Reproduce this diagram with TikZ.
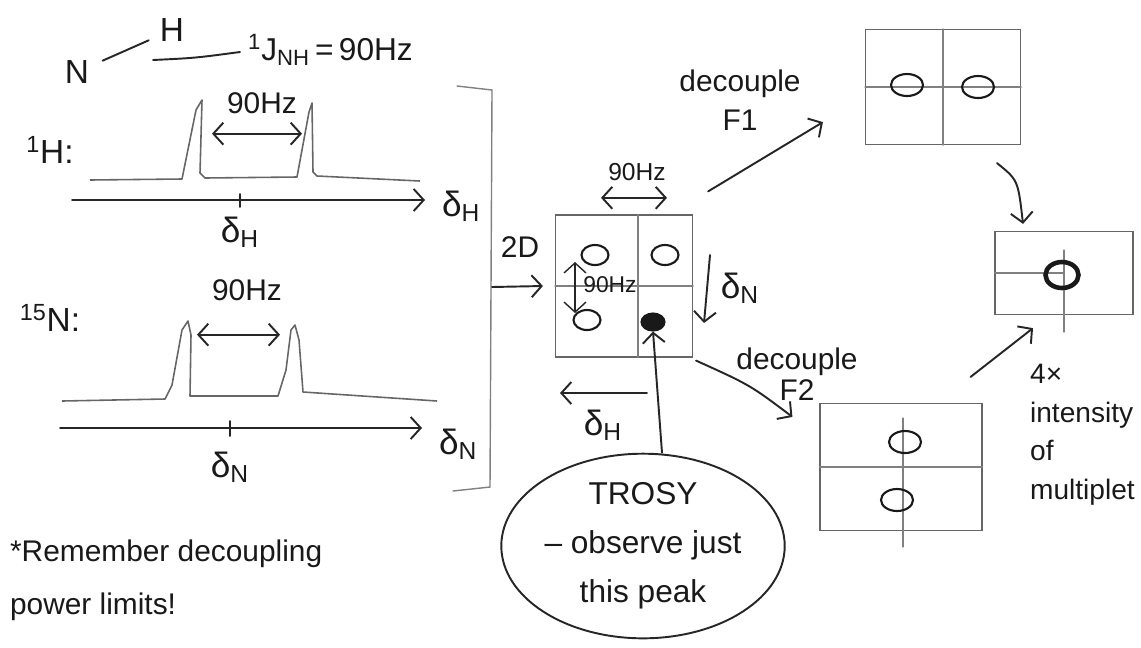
\documentclass[tikz,border=0pt]{standalone}
\usepackage{fontspec}
\setmainfont{Liberation Sans}
\usetikzlibrary{positioning,arrows.meta,shapes.geometric}

\tikzset{
  ink/.style={draw=black!85, line width=1.1pt, line cap=round, line join=round},
  pencil/.style={draw=black!50, line width=0.6pt, line cap=round},
  trace/.style={draw=black!60, line width=0.9pt, line join=round},
  hand/.style={font=\fontsize{17}{20}\selectfont, text=black!90, inner sep=1pt, align=center},
  delta/.style={hand, font=\fontsize{20}{22}\selectfont},
  small/.style={font=\fontsize{13}{15}\selectfont, text=black!90, inner sep=1pt},
  peak/.style={ellipse, draw=black!90, line width=1.2pt, minimum width=0.64cm, minimum height=0.44cm, inner sep=0pt},
  spot/.style={peak, fill=black!90, minimum width=0.46cm, minimum height=0.34cm},
  sbox/.style={draw=black!60, line width=0.7pt, inner sep=0pt},
  >={Straight Barb[length=2mm,width=4.4mm]}
}

\begin{document}
\begin{tikzpicture}[x=0.02cm, y=-0.02cm]
\useasboundingbox (0,0) rectangle (1141,647);

% N-H pair and its coupling
\node[hand, font=\fontsize{19}{20}\selectfont] (n) at (77,72) {N};
\node[hand, font=\fontsize{19}{20}\selectfont] (h) at (172,30) {H};
\draw[ink, shorten <=0.25cm, shorten >=0.2cm] (n) -- (h);
\draw[ink] (153,60) .. controls (195,58) .. (240,52);
\node[hand, anchor=west, font=\fontsize{18}{20}\selectfont] (jnh) at (246,50) {\textsuperscript{1}J\textsubscript{NH}\,=\,90Hz};

% 1H spectrum
\node[hand, font=\fontsize{19}{20}\selectfont] (hlab) at (50,150) {\textsuperscript{1}H:};
\draw[trace] (90,180) -- (182,179) -- (196,110) -- (202,100) -- (200,173) -- (205,178)
  -- (297,177) -- (309,112) -- (312,103) -- (313,172) -- (317,176) -- (420,181);
\node[hand] (hzh) at (262,103) {90Hz};
\draw[ink, <->] ([shift={(-1cm,-0.36cm)}]hzh.south) -- ([shift={(0.8cm,-0.36cm)}]hzh.south);
\coordinate (ha0) at (72,200);
\coordinate (ha1) at (425,200);
\draw[ink, ->] (ha0) -- (ha1);
\draw[ink] (240,194) -- (240,207);
\node[delta] (dh0) at (240,232) {δ\textsubscript{H}};
\node[delta, right=0.3cm of ha1, yshift=-0.12cm] (dh1) {δ\textsubscript{H}};

% 15N spectrum
\node[hand, font=\fontsize{19}{20}\selectfont] (nlab) at (50,318) {\textsuperscript{15}N:};
\draw[trace] (62,401) -- (165,399) -- (172,385) -- (182,330) -- (188,321) -- (191,335) -- (190,396)
  -- (278,396) -- (286,370) -- (291,330) -- (295,325) -- (299,340) -- (303,392) -- (437,401);
\node[hand] (hzn) at (247,290) {90Hz};
\draw[ink, <->] ([shift={(-1cm,-0.64cm)}]hzn.south) -- ([shift={(0.66cm,-0.64cm)}]hzn.south);
\coordinate (na0) at (60,428);
\coordinate (na1) at (422,428);
\draw[ink, ->] (na0) -- (na1);
\draw[ink] (230,421) -- (230,436);
\node[delta] (dn0) at (230,467) {δ\textsubscript{N}};
\node[delta, right=0.3cm of na1, yshift=-0.32cm] (dn1) {δ\textsubscript{N}};

\node[hand, anchor=west, align=left, font=\fontsize{17}{30}\selectfont] (note) at (8,580) {*Remember decoupling\\power limits!};

% bracket into the 2D map
\draw[pencil, line width=0.8pt] (457,86) -- (492,90) -- (490,487) -- (453,491);
\coordinate (brk) at (492,287);
\node[hand] (lab2d) at (520,247) {2D};

% 2D map with the four multiplet components
\node[sbox, minimum width=2.74cm, minimum height=2.84cm] (twod) at (624,286) {};
\draw[pencil] ([xshift=0.28cm]twod.north) -- ([xshift=0.28cm]twod.south);
\draw[pencil] (twod.west) -- (twod.east);
\node[peak, minimum width=0.54cm, minimum height=0.4cm] (pa) at (595,255) {};
\node[peak, minimum width=0.54cm, minimum height=0.4cm] (pb) at (665,255) {};
\node[peak, minimum width=0.54cm, minimum height=0.4cm] (pc) at (587,320) {};
\node[spot] (pd) at (653,322) {};
\draw[ink, ->] (brk) -- ([xshift=-0.24cm]twod.west);

\node[small, font=\fontsize{14}{16}\selectfont] (hzt) at (637,172) {90Hz};
\draw[ink, <->] ([shift={(-0.72cm,-0.3cm)}]hzt.south) -- ([shift={(0.6cm,-0.3cm)}]hzt.south);
\draw[ink, <->, line width=0.8pt] (575,313) -- (575,262);
\node[small] (hzl) at (610,285) {90Hz};
\draw[ink, ->] (710,255) -- (704,323);
\node[delta] (dn2) at (740,288) {δ\textsubscript{N}};
\draw[ink, ->] (647,393) -- (560,393);
\node[delta] (dh2) at (603,425) {δ\textsubscript{H}};

% TROSY remark
\node[ellipse, ink, hand, minimum width=5.66cm, minimum height=3.54cm, font=\fontsize{18}{28}\selectfont] (trosy) at (643,546) {TROSY\\– observe just\\this peak};
\draw[ink, ->] ([xshift=0.18cm]trosy.north -| pd) -- (pd.south);

% decoupled spectra
\node[sbox, minimum width=3.1cm, minimum height=2.3cm] (box1) at (943,87) {};
\draw[pencil] (box1.north) -- (box1.south);
\draw[pencil] (box1.west) -- (box1.east);
\node[peak] (m1) at (907,85) {};
\node[peak] (m2) at (978,87) {};

\node[sbox, minimum width=3.24cm, minimum height=2.54cm] (box3) at (901,467) {};
\draw[pencil] (903,418) -- (903,547);
\draw[pencil] (box3.west) -- (box3.east);
\node[peak] (m3) at (905,442) {};
\node[peak] (m4) at (897,500) {};

\node[sbox, minimum width=2.76cm, minimum height=1.66cm] (box2) at (1064,273) {};
\draw[pencil] (1064,250) -- (1064,332);
\draw[pencil] (box2.west) -- (box2.center);
\node[peak, line width=2.6pt, minimum width=0.66cm, minimum height=0.52cm] (one) at (1062,275) {};

\node[hand, font=\fontsize{17}{22}\selectfont] (f1) at (740,100) {decouple\\F1};
\draw[ink, ->] ([shift={(0.3cm,0.46cm)}]twod.north east) -- ([shift={(-0.84cm,0.46cm)}]box1.south west);
\node[hand, font=\fontsize{17}{18}\selectfont] (f2) at (797,374) {decouple\\F2};
\draw[ink, ->] ([shift={(0.06cm,-0.06cm)}]twod.south east) .. controls (750,385) .. ([shift={(-0.54cm,-0.28cm)}]box3.north west);

\draw[ink, ->] ([shift={(1.08cm,-0.36cm)}]box1.south) .. controls (1018,180) .. ([shift={(-0.82cm,0.14cm)}]box2.north);
\draw[ink, ->] ([shift={(-0.24cm,0.52cm)}]box3.north east) -- ([shift={(-0.62cm,-0.26cm)}]box2.south);
\node[hand, anchor=north west, align=left, font=\fontsize{16}{22}\selectfont] (quad) at (1028,362) {4×\\intensity\\of\\multiplet};
\end{tikzpicture}
\end{document}
